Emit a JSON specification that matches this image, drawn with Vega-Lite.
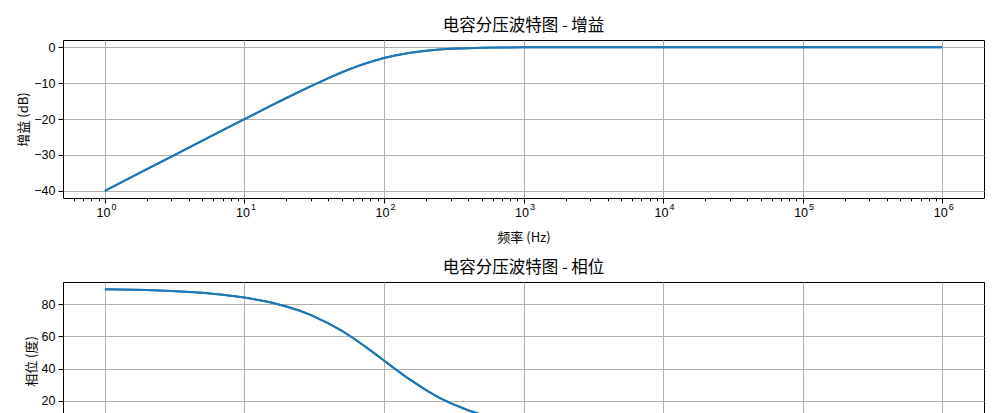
{
  "$schema": "https://vega.github.io/schema/vega-lite/v6.json",
  "background": "white",
  "padding": {"left": 17, "top": 17, "right": 5, "bottom": 5},
  "spacing": 14,
  "config": {
    "font": "Noto Sans CJK SC",
    "view": {"stroke": "black", "strokeWidth": 1},
    "title": {"fontSize": 16.5, "fontWeight": "normal", "color": "black", "offset": 6, "font": "Noto Sans CJK SC"},
    "axis": {
      "domain": false,
      "grid": true,
      "gridColor": "#b0b0b0",
      "gridWidth": 1,
      "tickColor": "black",
      "tickSize": 5,
      "labelColor": "black",
      "labelFont": "Liberation Sans, DejaVu Sans",
      "labelFontSize": 12.5,
      "labelPadding": 3,
      "labelOverlap": false,
      "labelFlush": false,
      "titleFont": "Noto Sans CJK SC",
      "titleFontSize": 13,
      "titleFontWeight": "normal",
      "titleColor": "black"
    }
  },
  "data": {
    "values": [
      {"freq": 1, "gain": -40.0004, "phase": 89.427},
      {"freq": 2, "gain": -33.981, "phase": 88.854},
      {"freq": 3, "gain": -30.462, "phase": 88.282},
      {"freq": 5, "gain": -26.031, "phase": 87.138},
      {"freq": 7, "gain": -23.119, "phase": 85.996},
      {"freq": 10, "gain": -20.043, "phase": 84.289},
      {"freq": 15, "gain": -16.575, "phase": 81.469},
      {"freq": 20, "gain": -14.150, "phase": 78.690},
      {"freq": 25, "gain": -12.304, "phase": 75.964},
      {"freq": 30, "gain": -10.832, "phase": 73.301},
      {"freq": 40, "gain": -8.604, "phase": 68.199},
      {"freq": 50, "gain": -6.990, "phase": 63.435},
      {"freq": 60, "gain": -5.772, "phase": 59.036},
      {"freq": 70, "gain": -4.830, "phase": 55.008},
      {"freq": 85, "gain": -3.773, "phase": 49.635},
      {"freq": 100, "gain": -3.010, "phase": 45.0},
      {"freq": 120, "gain": -2.290, "phase": 39.806},
      {"freq": 150, "gain": -1.597, "phase": 33.690},
      {"freq": 200, "gain": -0.969, "phase": 26.565},
      {"freq": 250, "gain": -0.645, "phase": 21.801},
      {"freq": 300, "gain": -0.458, "phase": 18.435},
      {"freq": 400, "gain": -0.263, "phase": 14.036},
      {"freq": 500, "gain": -0.170, "phase": 11.310},
      {"freq": 700, "gain": -0.088, "phase": 8.130},
      {"freq": 1000, "gain": -0.0432, "phase": 5.711},
      {"freq": 1500, "gain": -0.0192, "phase": 3.814},
      {"freq": 2000, "gain": -0.0108, "phase": 2.862},
      {"freq": 3000, "gain": -0.0048, "phase": 1.909},
      {"freq": 5000, "gain": -0.0017, "phase": 1.146},
      {"freq": 7000, "gain": -0.0009, "phase": 0.818},
      {"freq": 10000, "gain": -0.0004, "phase": 0.573},
      {"freq": 20000, "gain": -0.0001, "phase": 0.286},
      {"freq": 50000, "gain": 0.0, "phase": 0.115},
      {"freq": 100000, "gain": 0.0, "phase": 0.0573},
      {"freq": 1000000, "gain": 0.0, "phase": 0.0057}
    ]
  },
  "vconcat": [
    {
      "title": "电容分压波特图 - 增益",
      "width": 921,
      "height": 158,
      "encoding": {
        "y": {
          "field": "gain", "type": "quantitative",
          "scale": {"domain": [-42, 2], "nice": false, "zero": false},
          "axis": {"title": "增益 (dB)", "values": [-40, -30, -20, -10, 0], "titlePadding": 3}
        }
      },
      "layer": [
        {
          "mark": {"type": "line", "color": "#1f77b4", "strokeWidth": 2, "clip": true},
          "encoding": {
            "x": {
              "field": "freq", "type": "quantitative",
              "scale": {"type": "log", "domain": [0.501, 1995000], "nice": false},
              "axis": {
                "orient": "bottom",
                "title": "频率 (Hz)",
                "titlePadding": 13,
                "labelOffset": -2,
                "values": [0.6,0.7,0.8,0.9,1,2,3,4,5,6,7,8,9,10,20,30,40,50,60,70,80,90,100,200,300,400,500,600,700,800,900,1000,2000,3000,4000,5000,6000,7000,8000,9000,10000,20000,30000,40000,50000,60000,70000,80000,90000,100000,200000,300000,400000,500000,600000,700000,800000,900000,1000000],
                "labelExpr": "indexof([1,10,100,1000,10000,100000,1000000], datum.value) >= 0 ? '10' : ''",
                "tickSize": {"condition": {"test": "indexof([1,10,100,1000,10000,100000,1000000], datum.value) >= 0", "value": 5}, "value": 2.8},
                "gridOpacity": {"condition": {"test": "indexof([1,10,100,1000,10000,100000,1000000], datum.value) >= 0", "value": 1}, "value": 0}
              }
            }
          }
        },
        {
          "mark": {"type": "line", "color": "#1f77b4", "strokeWidth": 2, "clip": true},
          "encoding": {
            "x": {
              "field": "freq", "type": "quantitative",
              "scale": {"type": "log", "domain": [0.501, 1995000], "nice": false},
              "axis": {
                "orient": "bottom",
                "title": null,
                "ticks": false,
                "tickSize": 0,
                "grid": false,
                "labelFontSize": 9,
                "labelOffset": 8.5,
                "labelPadding": 4,
                "values": [1,10,100,1000,10000,100000,1000000],
                "labelExpr": "format(log(datum.value)/LN10, '.0f')"
              }
            }
          }
        }
      ],
      "resolve": {"axis": {"x": "independent"}}
    },
    {
      "title": "电容分压波特图 - 相位",
      "width": 921,
      "height": 158,
      "encoding": {
        "y": {
          "field": "phase", "type": "quantitative",
          "scale": {"domain": [-4.47, 93.9], "nice": false, "zero": false},
          "axis": {"title": "相位 (度)", "values": [0, 20, 40, 60, 80], "titlePadding": 3}
        }
      },
      "layer": [
        {
          "mark": {"type": "line", "color": "#1f77b4", "strokeWidth": 2, "clip": true},
          "encoding": {
            "x": {
              "field": "freq", "type": "quantitative",
              "scale": {"type": "log", "domain": [0.501, 1995000], "nice": false},
              "axis": {
                "orient": "bottom",
                "title": "频率 (Hz)",
                "titlePadding": 13,
                "labelOffset": -2,
                "values": [0.6,0.7,0.8,0.9,1,2,3,4,5,6,7,8,9,10,20,30,40,50,60,70,80,90,100,200,300,400,500,600,700,800,900,1000,2000,3000,4000,5000,6000,7000,8000,9000,10000,20000,30000,40000,50000,60000,70000,80000,90000,100000,200000,300000,400000,500000,600000,700000,800000,900000,1000000],
                "labelExpr": "indexof([1,10,100,1000,10000,100000,1000000], datum.value) >= 0 ? '10' : ''",
                "tickSize": {"condition": {"test": "indexof([1,10,100,1000,10000,100000,1000000], datum.value) >= 0", "value": 5}, "value": 2.8},
                "gridOpacity": {"condition": {"test": "indexof([1,10,100,1000,10000,100000,1000000], datum.value) >= 0", "value": 1}, "value": 0}
              }
            }
          }
        },
        {
          "mark": {"type": "line", "color": "#1f77b4", "strokeWidth": 2, "clip": true},
          "encoding": {
            "x": {
              "field": "freq", "type": "quantitative",
              "scale": {"type": "log", "domain": [0.501, 1995000], "nice": false},
              "axis": {
                "orient": "bottom",
                "title": null,
                "ticks": false,
                "tickSize": 0,
                "grid": false,
                "labelFontSize": 9,
                "labelOffset": 8.5,
                "labelPadding": 4,
                "values": [1,10,100,1000,10000,100000,1000000],
                "labelExpr": "format(log(datum.value)/LN10, '.0f')"
              }
            }
          }
        }
      ],
      "resolve": {"axis": {"x": "independent"}}
    }
  ]
}
